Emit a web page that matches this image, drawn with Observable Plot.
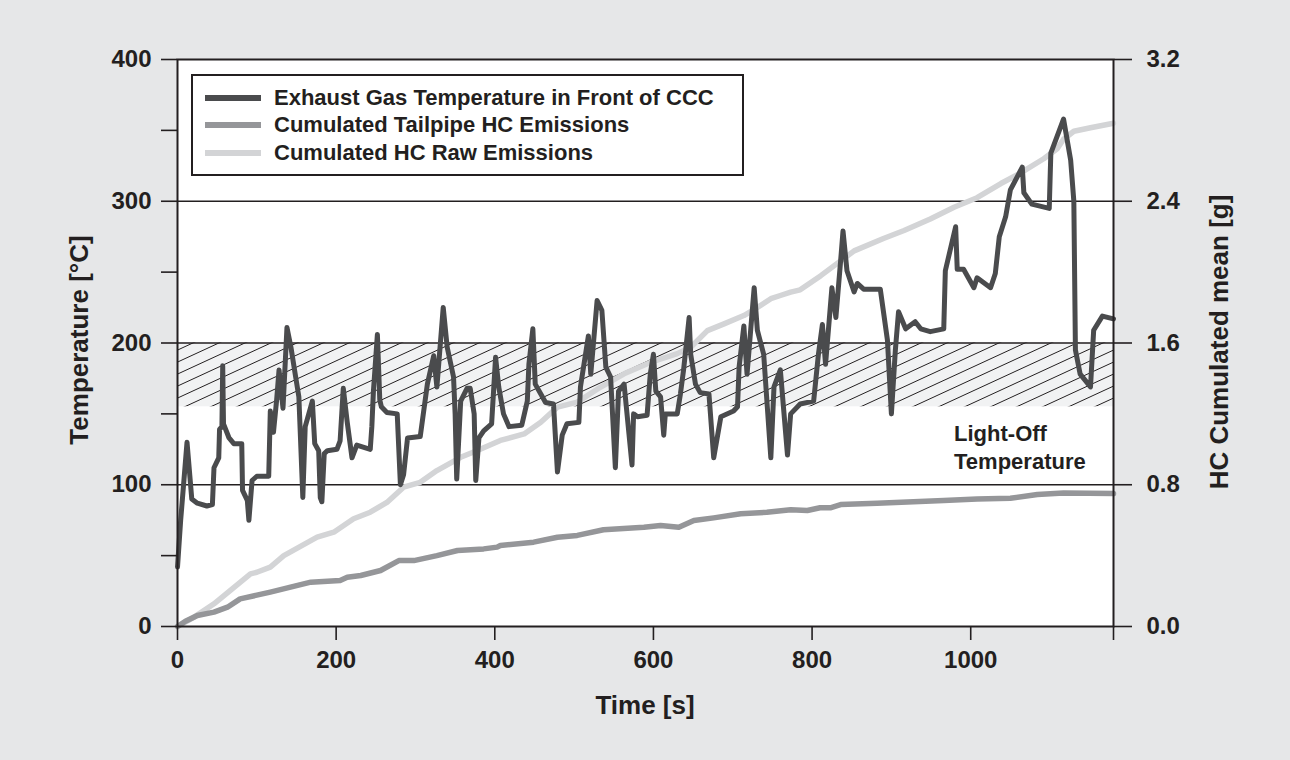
<!DOCTYPE html>
<html>
<head>
<meta charset="utf-8">
<script src="https://cdn.jsdelivr.net/npm/d3@7"></script>
<script src="https://cdn.jsdelivr.net/npm/@observablehq/plot@0.6"></script>
<style>
html, body { margin: 0; padding: 0; background: #e6e7e8; }
#wrap { position: relative; width: 1290px; height: 760px; overflow: hidden;
  font-family: "Liberation Sans", Arial, Helvetica, sans-serif; font-weight: bold; color: #231f20; }
#wrap svg { position: absolute; left: 0; top: 0; }
.legend { position: absolute; left: 191px; top: 74px; background: #fff; border: 2px solid #231f20;
  padding: 8px 28px 7px 12px; }
.row { display: flex; align-items: center; height: 27.5px; font-size: 22px; white-space: nowrap; }
.sw { width: 56px; height: 6px; margin-right: 13px; }
.title { position: absolute; font-size: 26px; white-space: nowrap; transform: translate(-50%, -50%); }
.rot { transform: translate(-50%, -50%) rotate(-90deg); }
</style>
</head>
<body>
<div id="wrap">
  <div id="chart"></div>
  <div class="legend" id="legend"></div>
  <div class="title rot" id="ytitle" style="left:79px; top:340px;"></div>
  <div class="title rot" id="y2title" style="left:1219px; top:342px;"></div>
  <div class="title" id="xtitle" style="left:645px; top:705px;"></div>
</div>
<script>
// ---------- data ----------
const timeDomain = [0, 1180];
const tempDomain = [0, 400];
const hcDomain = [0, 3.2];

const xTicks = [0, 200, 400, 600, 800, 1000];
const yTicks = [0, 100, 200, 300, 400];
const yMinorTicks = [50, 150, 250, 350];
const hcTicks = [0, 0.8, 1.6, 2.4, 3.2];
const gridTemps = [100, 200, 300];

const lightOffBand = [155, 200];
const lightOffLabel = "Light-Off\nTemperature";
const lightOffLabelPos = [979, 145];

const seriesNames = ["Exhaust Gas Temperature in Front of CCC", "Cumulated Tailpipe HC Emissions", "Cumulated HC Raw Emissions"];
const seriesColors = ["#4a4b4d", "#959699", "#d3d4d6"];
const axisTitles = { y: "Temperature [°C]", y2: "HC Cumulated mean [g]", x: "Time [s]" };

const tempTime = [0,4,12,18,25,37,44,46,52,53,56,57,58,65,71,81,82,88,90,94,100,115,117,121,125,128,133,138,143,149,153,158,161,170,173,178,180,182,185,189,201,205,209,214,220,226,243,245,247,252,255,257,264,277,281,285,290,306,315,323,327,335,340,348,350,352,357,365,369,374,376,380,386,396,401,405,411,418,434,441,443,448,451,458,464,474,479,485,491,506,508,518,521,529,535,540,546,552,556,563,573,575,580,592,596,600,603,609,613,615,630,634,638,645,647,653,659,670,676,685,701,706,708,714,718,727,731,739,748,752,760,769,773,785,802,808,813,817,825,830,836,839,844,853,857,865,886,895,900,905,909,918,930,937,949,966,968,981,983,991,1004,1008,1025,1031,1036,1044,1050,1065,1067,1077,1099,1101,1117,1126,1130,1132,1138,1151,1155,1166,1180];
const tempValue = [42,75,130,90,87,85,86,112,119,139,141,184,143,133,129,129,96,89,75,103,106,106,152,137,160,181,154,211,197,176,162,91,141,159,129,124,91,88,122,124,125,131,168,144,119,128,125,141,166,206,160,155,151,150,100,107,133,134,171,191,169,225,197,176,150,104,159,168,168,150,103,133,138,143,190,169,150,141,142,159,185,210,171,164,158,157,109,135,143,144,169,205,178,230,223,183,176,112,166,171,114,150,148,149,178,192,166,162,135,150,150,164,181,218,192,171,165,164,119,148,152,155,183,212,178,239,209,192,119,169,181,121,150,157,159,192,213,185,239,218,258,279,251,236,242,238,238,202,150,195,222,210,215,210,208,210,251,282,252,252,239,246,239,249,275,289,308,324,306,298,295,334,358,329,300,195,178,169,209,219,217];

const tailTime = [0,10,25,46,63,79,117,168,205,214,231,256,279,298,327,353,386,403,407,449,479,504,537,588,609,632,651,676,710,743,773,794,810,823,836,882,966,1008,1050,1084,1117,1180];
const tailValue = [0,0.03,0.062,0.081,0.109,0.156,0.194,0.25,0.26,0.278,0.288,0.316,0.372,0.372,0.40,0.429,0.438,0.448,0.457,0.476,0.504,0.514,0.546,0.56,0.57,0.56,0.598,0.613,0.636,0.645,0.659,0.655,0.67,0.67,0.688,0.696,0.711,0.72,0.724,0.745,0.754,0.75];

const rawTime = [0,20,46,92,100,117,134,176,197,222,243,264,285,306,327,357,378,407,437,458,479,504,533,563,596,630,647,668,689,714,731,748,760,773,785,811,853,890,916,949,979,1008,1038,1063,1092,1109,1117,1130,1151,1180];
const rawValue = [0,0.05,0.128,0.297,0.306,0.335,0.40,0.504,0.532,0.608,0.645,0.70,0.786,0.814,0.88,0.955,0.993,1.05,1.087,1.153,1.238,1.266,1.35,1.426,1.49,1.54,1.576,1.67,1.708,1.755,1.80,1.85,1.868,1.887,1.90,1.98,2.12,2.19,2.235,2.30,2.366,2.42,2.50,2.56,2.64,2.696,2.75,2.795,2.815,2.84];

// ---------- build ----------
const hcToTemp = tempDomain[1] / hcDomain[1];
const temp = tempTime.map((t, i) => ({t, v: tempValue[i]}));
const tail = tailTime.map((t, i) => ({t, v: tailValue[i] * hcToTemp}));
const raw = rawTime.map((t, i) => ({t, v: rawValue[i] * hcToTemp}));
const band = [{x1: timeDomain[0], x2: timeDomain[1], y1: lightOffBand[0], y2: lightOffBand[1]}];
const ink = "#231f20";

const svg = Plot.plot({
  width: 1290, height: 760,
  marginLeft: 177, marginRight: 177, marginTop: 59, marginBottom: 134,
  x: {domain: timeDomain},
  y: {domain: tempDomain},
  style: {background: "transparent", fontFamily: "'Liberation Sans', Arial, Helvetica, sans-serif", fontWeight: "bold", fontSize: "24px", color: ink},
  marks: [
    Plot.frame({fill: "#ffffff", stroke: "none"}),
    Plot.rect(band, {x1: "x1", x2: "x2", y1: "y1", y2: "y2", fill: "#f1f2f3"}),
    Plot.rect(band, {x1: "x1", x2: "x2", y1: "y1", y2: "y2", fill: "url(#hatch)"}),
    Plot.ruleY(gridTemps, {stroke: ink, strokeWidth: 1.6}),
    Plot.line(raw, {x: "t", y: "v", stroke: seriesColors[2], strokeWidth: 5.5, strokeLinejoin: "round"}),
    Plot.line(tail, {x: "t", y: "v", stroke: seriesColors[1], strokeWidth: 5.5, strokeLinejoin: "round"}),
    Plot.line(temp, {x: "t", y: "v", stroke: seriesColors[0], strokeWidth: 5, strokeLinejoin: "round"}),
    Plot.text([lightOffLabel], {x: () => lightOffLabelPos[0], y: () => lightOffLabelPos[1], text: d => d, textAnchor: "start", lineAnchor: "top", fontSize: 22, lineHeight: 1.28, fill: ink}),
    Plot.frame({stroke: ink, strokeWidth: 2}),
    Plot.axisY({anchor: "left", ticks: yTicks, tickSize: 16, tickPadding: 10, strokeWidth: 1.6, stroke: ink, label: null}),
    Plot.axisY({anchor: "left", ticks: yMinorTicks, tickSize: 16, tickFormat: () => "", strokeWidth: 1.6, stroke: ink, label: null}),
    Plot.axisY({anchor: "right", ticks: hcTicks.map(h => h * hcToTemp), tickFormat: d => (d / hcToTemp).toFixed(1), tickSize: 18, tickPadding: 15, strokeWidth: 1.6, stroke: ink, label: null}),
    Plot.axisX({anchor: "bottom", ticks: xTicks, tickFormat: d => String(d), tickSize: 14, tickPadding: 10, strokeWidth: 1.6, stroke: ink, label: null}),
    Plot.axisX({anchor: "bottom", ticks: [timeDomain[1]], tickSize: 14, tickFormat: () => "", strokeWidth: 1.6, stroke: ink, label: null})
  ]
});

d3.select(svg).insert("defs", ":first-child").html(
  `<pattern id="hatch" patternUnits="userSpaceOnUse" width="26" height="12">
     <path d="M-13,18L39,-6M-39,18L13,-6M13,18L65,-6" stroke="${ink}" stroke-width="1" fill="none"/>
   </pattern>`
);
document.getElementById("chart").appendChild(svg);

// legend
const legend = d3.select("#legend");
seriesNames.forEach((name, i) => {
  const row = legend.append("div").attr("class", "row");
  row.append("div").attr("class", "sw").style("background", seriesColors[i]);
  row.append("span").text(name);
});
document.getElementById("ytitle").textContent = axisTitles.y;
document.getElementById("y2title").textContent = axisTitles.y2;
document.getElementById("xtitle").textContent = axisTitles.x;
</script>
</body>
</html>
